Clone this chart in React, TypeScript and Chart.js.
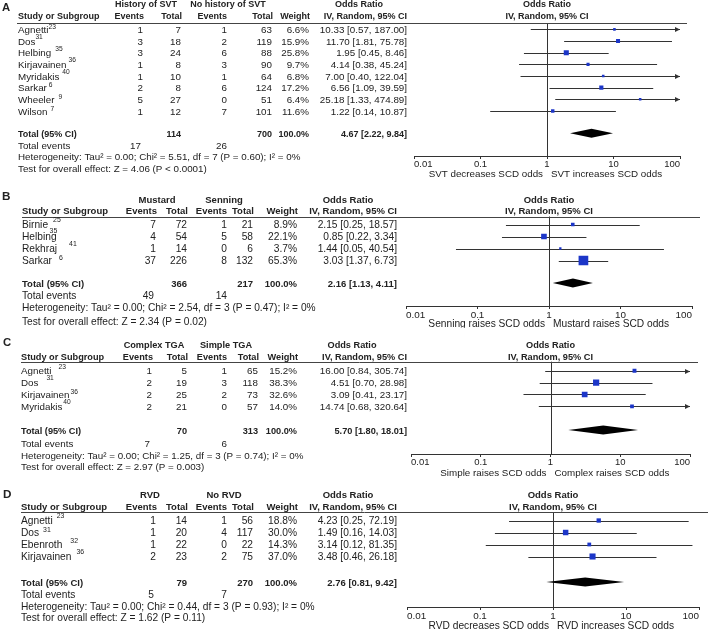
import React, { useEffect, useRef } from "react";
import { Chart, registerables } from "chart.js";

Chart.register(...registerables);

const W = 709;
const FONT = '"Liberation Sans", Arial, Helvetica, sans-serif';
const TICK_VALUES = [0.01, 0.1, 1, 10, 100];
const TICK_LABELS = ["0.01", "0.1", "1", "10", "100"];
const AXIS_H = 16;

// ---------- Panel A: history of SVT ----------
const studiesA = ["Agnetti", "Dos", "Helbing", "Kirjavainen", "Myridakis", "Sarkar", "Wheeler", "Wilson"];
const refsA = ["23", "31", "35", "36", "40", "6", "9", "7"];
const eventsA1 = [1, 3, 3, 1, 1, 2, 5, 1];
const totalA1 = [7, 18, 24, 8, 10, 8, 27, 12];
const eventsA2 = [1, 2, 6, 3, 1, 6, 0, 7];
const totalA2 = [63, 119, 88, 90, 64, 124, 51, 101];
const weightA = [6.6, 15.9, 25.8, 9.7, 6.8, 17.2, 6.4, 11.6];
const orA = [10.33, 11.7, 1.95, 4.14, 7.0, 6.56, 25.18, 1.22];
const loA = [0.57, 1.81, 0.45, 0.38, 0.4, 1.09, 1.33, 0.14];
const hiA = [187.0, 75.78, 8.46, 45.24, 122.04, 39.59, 474.89, 10.87];
const sumA = { total1: 114, total2: 700, events1: 17, events2: 26 };
const pooledA = [4.67, 2.22, 9.84];
const hetA = "Heterogeneity: Tau² = 0.00; Chi² = 5.51, df = 7 (P = 0.60); I² = 0%";
const testA = "Test for overall effect: Z = 4.06 (P < 0.0001)";
const groupsA = ["History of SVT", "No history of SVT"];
const captionA = ["SVT decreases SCD odds", "SVT increases SCD odds"];

// ---------- Panel B: Mustard vs Senning ----------
const studiesB = ["Birnie", "Helbing", "Rekhraj", "Sarkar"];
const refsB = ["25", "35", "41", "6"];
const eventsB1 = [7, 4, 1, 37];
const totalB1 = [72, 54, 14, 226];
const eventsB2 = [1, 5, 0, 8];
const totalB2 = [21, 58, 6, 132];
const weightB = [8.9, 22.1, 3.7, 65.3];
const orB = [2.15, 0.85, 1.44, 3.03];
const loB = [0.25, 0.22, 0.05, 1.37];
const hiB = [18.57, 3.34, 40.54, 6.73];
const sumB = { total1: 366, total2: 217, events1: 49, events2: 14 };
const pooledB = [2.16, 1.13, 4.11];
const hetB = "Heterogeneity: Tau² = 0.00; Chi² = 2.54, df = 3 (P = 0.47); I² = 0%";
const testB = "Test for overall effect: Z = 2.34 (P = 0.02)";
const groupsB = ["Mustard", "Senning"];
const captionB = ["Senning raises SCD odds", "Mustard raises SCD odds"];

// ---------- Panel C: complex vs simple TGA ----------
const studiesC = ["Agnetti", "Dos", "Kirjavainen", "Myridakis"];
const refsC = ["23", "31", "36", "40"];
const eventsC1 = [1, 2, 2, 2];
const totalC1 = [5, 19, 25, 21];
const eventsC2 = [1, 3, 2, 0];
const totalC2 = [65, 118, 73, 57];
const weightC = [15.2, 38.3, 32.6, 14.0];
const orC = [16.0, 4.51, 3.09, 14.74];
const loC = [0.84, 0.7, 0.41, 0.68];
const hiC = [305.74, 28.98, 23.17, 320.64];
const sumC = { total1: 70, total2: 313, events1: 7, events2: 6 };
const pooledC = [5.7, 1.8, 18.01];
const hetC = "Heterogeneity: Tau² = 0.00; Chi² = 1.25, df = 3 (P = 0.74); I² = 0%";
const testC = "Test for overall effect: Z = 2.97 (P = 0.003)";
const groupsC = ["Complex TGA", "Simple TGA"];
const captionC = ["Simple raises SCD odds", "Complex raises SCD odds"];

// ---------- Panel D: RVD vs no RVD ----------
const studiesD = ["Agnetti", "Dos", "Ebenroth", "Kirjavainen"];
const refsD = ["23", "31", "32", "36"];
const eventsD1 = [1, 1, 1, 2];
const totalD1 = [14, 20, 22, 23];
const eventsD2 = [1, 4, 0, 2];
const totalD2 = [56, 117, 22, 75];
const weightD = [18.8, 30.0, 14.3, 37.0];
const orD = [4.23, 1.49, 3.14, 3.48];
const loD = [0.25, 0.16, 0.12, 0.46];
const hiD = [72.19, 14.03, 81.35, 26.18];
const sumD = { total1: 79, total2: 270, events1: 5, events2: 7 };
const pooledD = [2.76, 0.81, 9.42];
const hetD = "Heterogeneity: Tau² = 0.00; Chi² = 0.44, df = 3 (P = 0.93); I² = 0%";
const testD = "Test for overall effect: Z = 1.62 (P = 0.11)";
const groupsD = ["RVD", "No RVD"];
const captionD = ["RVD decreases SCD odds", "RVD increases SCD odds"];

// ---------- layout (positions / sizes only) ----------
type Layout = {
  top: number; height: number; fs: number; bfs: number; letterXY: number[];
  h1: number; h2: number; lineY: number; lineX: number[];
  row0: number; pitch: number; totalY: number; eventsY: number; hetY: number; testY: number;
  axisY: number; captionY: number; plotL: number; plotR: number;
  nameX: number; cols: number[]; g1X: number; g2X: number; orHeadX: number;
  boxK: number; sup: number[][]; textDy: number;
};

const layA: Layout = {
  top: 0, height: 178, fs: 9.8, bfs: 9.0, letterXY: [2, 7.5],
  h1: 5, h2: 16.5, lineY: 23.3, lineX: [17, 687],
  row0: 29.4, pitch: 11.65, totalY: 133.3, eventsY: 146, hetY: 157.5, testY: 169.5,
  axisY: 156, captionY: 174, plotL: 414, plotR: 680,
  nameX: 18, cols: [143, 181, 227, 272, 309, 407], g1X: 146, g2X: 228, orHeadX: 359,
  boxK: 1.0, sup: [[0, -3], [0, -4.5], [4, -5], [2, -5], [3, -5], [2, -3], [4, -3], [3, -3]], textDy: 1,
};
const layB: Layout = {
  top: 178, height: 150, fs: 10.2, bfs: 9.5, letterXY: [2, 197],
  h1: 200, h2: 211.5, lineY: 216.5, lineX: [22, 700],
  row0: 224.5, pitch: 12, totalY: 283, eventsY: 296, hetY: 308, testY: 322,
  axisY: 306, captionY: 324, plotL: 406, plotR: 692,
  nameX: 22, cols: [156, 187, 227, 253, 297, 397], g1X: 157, g2X: 224, orHeadX: 348,
  boxK: 1.2, sup: [[5, -5], [-7, -6.5], [12, -5], [7, -3]], textDy: 1,
};
const layC: Layout = {
  top: 328, height: 150, fs: 9.8, bfs: 9.2, letterXY: [3, 343],
  h1: 345, h2: 357, lineY: 361.7, lineX: [21, 698],
  row0: 370.7, pitch: 11.9, totalY: 430, eventsY: 444, hetY: 456, testY: 467.5,
  axisY: 454, captionY: 473, plotL: 411, plotR: 690,
  nameX: 21, cols: [152, 187, 227, 258, 297, 407], g1X: 154, g2X: 226, orHeadX: 352,
  boxK: 1.0, sup: [[7, -5], [8, -5], [1, -3], [1, -5]], textDy: 1,
};
const layD: Layout = {
  top: 478, height: 152, fs: 10.2, bfs: 9.5, letterXY: [3, 495],
  h1: 495, h2: 507, lineY: 512, lineX: [21, 708],
  row0: 520.5, pitch: 12, totalY: 582, eventsY: 595, hetY: 607, testY: 618.5,
  axisY: 607, captionY: 626, plotL: 407, plotR: 699,
  nameX: 21, cols: [156, 187, 227, 253, 297, 397], g1X: 150, g2X: 224, orHeadX: 348,
  boxK: 1.0, sup: [[4, -5], [4, -3], [8, -4], [5, -5]], textDy: 1,
};

type Spec = {
  letter: string; groups: string[]; studies: string[]; refs: string[];
  ev1: number[]; tot1: number[]; ev2: number[]; tot2: number[];
  weight: number[]; or: number[]; lo: number[]; hi: number[];
  sum: { total1: number; total2: number; events1: number; events2: number };
  pooled: number[]; het: string; test: string; caption: string[]; lay: Layout;
};

const panels: Spec[] = [
  { letter: "A", groups: groupsA, studies: studiesA, refs: refsA, ev1: eventsA1, tot1: totalA1, ev2: eventsA2, tot2: totalA2, weight: weightA, or: orA, lo: loA, hi: hiA, sum: sumA, pooled: pooledA, het: hetA, test: testA, caption: captionA, lay: layA },
  { letter: "B", groups: groupsB, studies: studiesB, refs: refsB, ev1: eventsB1, tot1: totalB1, ev2: eventsB2, tot2: totalB2, weight: weightB, or: orB, lo: loB, hi: hiB, sum: sumB, pooled: pooledB, het: hetB, test: testB, caption: captionB, lay: layB },
  { letter: "C", groups: groupsC, studies: studiesC, refs: refsC, ev1: eventsC1, tot1: totalC1, ev2: eventsC2, tot2: totalC2, weight: weightC, or: orC, lo: loC, hi: hiC, sum: sumC, pooled: pooledC, het: hetC, test: testC, caption: captionC, lay: layC },
  { letter: "D", groups: groupsD, studies: studiesD, refs: refsD, ev1: eventsD1, tot1: totalD1, ev2: eventsD2, tot2: totalD2, weight: weightD, or: orD, lo: loD, hi: hiD, sum: sumD, pooled: pooledD, het: hetD, test: testD, caption: captionD, lay: layD },
];

const TEXT = "#222222";
const LINE = "#333333";
const BOX = "#1c36c8";

const fmtOR = (o: number, l: number, h: number) => `${o.toFixed(2)} [${l.toFixed(2)}, ${h.toFixed(2)}]`;

function txt(ctx: CanvasRenderingContext2D, s: string, x: number, y: number, align: CanvasTextAlign, bold: boolean, size: number) {
  ctx.font = `${bold ? "bold " : ""}${size}px ${FONT}`;
  ctx.textAlign = align;
  ctx.textBaseline = "middle";
  ctx.fillStyle = TEXT;
  ctx.fillText(s, x, y);
}

function makePlugin(p: Spec) {
  const L = p.lay;
  const Y = (abs: number) => abs - L.top;
  const totalRow = (L.totalY - L.row0) / L.pitch;
  return {
    id: "forest" + p.letter,
    beforeDatasetsDraw(chart: any) {
      const ctx: CanvasRenderingContext2D = chart.ctx;
      const xs = chart.scales.x;
      const ys = chart.scales.y;
      const ca = chart.chartArea;
      ctx.save();
      ctx.strokeStyle = LINE;
      ctx.fillStyle = LINE;
      ctx.lineWidth = 1;
      // line of no effect
      const x1 = Math.round(xs.getPixelForValue(1)) + 0.5;
      ctx.beginPath();
      ctx.moveTo(x1, ca.top);
      ctx.lineTo(x1, ca.bottom);
      ctx.stroke();
      // confidence intervals
      p.or.forEach((_, i) => {
        const y = Math.round(ys.getPixelForValue(i)) + 0.5;
        const a = xs.getPixelForValue(Math.max(p.lo[i], 0.01));
        const b = xs.getPixelForValue(Math.min(p.hi[i], 100));
        ctx.beginPath();
        ctx.moveTo(a, y);
        ctx.lineTo(b, y);
        ctx.stroke();
        if (p.hi[i] > 100) {
          ctx.beginPath();
          ctx.moveTo(b, y);
          ctx.lineTo(b - 5, y - 2.5);
          ctx.lineTo(b - 5, y + 2.5);
          ctx.closePath();
          ctx.fill();
        }
        if (p.lo[i] < 0.01) {
          ctx.beginPath();
          ctx.moveTo(a, y);
          ctx.lineTo(a + 5, y - 2.5);
          ctx.lineTo(a + 5, y + 2.5);
          ctx.closePath();
          ctx.fill();
        }
      });
      // pooled diamond
      const yt = ys.getPixelForValue(totalRow);
      const xo = xs.getPixelForValue(p.pooled[0]);
      const xl = xs.getPixelForValue(p.pooled[1]);
      const xh = xs.getPixelForValue(p.pooled[2]);
      ctx.fillStyle = "#000";
      ctx.beginPath();
      ctx.moveTo(xl, yt);
      ctx.lineTo(xo, yt - 4.5);
      ctx.lineTo(xh, yt);
      ctx.lineTo(xo, yt + 4.5);
      ctx.closePath();
      ctx.fill();
      ctx.restore();
    },
    afterDraw(chart: any) {
      const ctx: CanvasRenderingContext2D = chart.ctx;
      const xs = chart.scales.x;
      const ys = chart.scales.y;
      const fs = L.fs;
      const bfs = L.bfs;
      const c = L.cols;
      ctx.save();
      // panel letter
      txt(ctx, p.letter, L.letterXY[0], Y(L.letterXY[1]), "left", true, fs + 1.5);
      // headers
      const h1 = Y(L.h1);
      const h2 = Y(L.h2);
      txt(ctx, p.groups[0], L.g1X, h1, "center", true, bfs);
      txt(ctx, p.groups[1], L.g2X, h1, "center", true, bfs);
      txt(ctx, "Odds Ratio", L.orHeadX, h1, "center", true, bfs);
      const plotMid = (xs.left + xs.right) / 2;
      txt(ctx, "Odds Ratio", plotMid, h1, "center", true, bfs);
      txt(ctx, "Study or Subgroup", L.nameX, h2, "left", true, bfs);
      txt(ctx, "Events", c[0] + 1, h2, "right", true, bfs);
      txt(ctx, "Total", c[1] + 1, h2, "right", true, bfs);
      txt(ctx, "Events", c[2], h2, "right", true, bfs);
      txt(ctx, "Total", c[3] + 1, h2, "right", true, bfs);
      txt(ctx, "Weight", c[4] + 1, h2, "right", true, bfs);
      txt(ctx, "IV, Random, 95% CI", c[5], h2, "right", true, bfs);
      txt(ctx, "IV, Random, 95% CI", plotMid, h2, "center", true, bfs);
      // header rule
      const ly = Math.round(Y(L.lineY)) + 0.5;
      ctx.strokeStyle = "#444";
      ctx.lineWidth = 1;
      ctx.beginPath();
      ctx.moveTo(L.lineX[0], ly);
      ctx.lineTo(L.lineX[1], ly);
      ctx.stroke();
      // study rows
      p.studies.forEach((name, i) => {
        const y = ys.getPixelForValue(i) + L.textDy;
        txt(ctx, name, L.nameX, y, "left", false, fs);
        ctx.font = `${fs}px ${FONT}`;
        const w = ctx.measureText(name).width;
        const s = L.sup[i] || [2, -4];
        txt(ctx, p.refs[i], L.nameX + w + s[0], y + s[1], "left", false, fs * 0.68);
        txt(ctx, String(p.ev1[i]), c[0], y, "right", false, fs);
        txt(ctx, String(p.tot1[i]), c[1], y, "right", false, fs);
        txt(ctx, String(p.ev2[i]), c[2], y, "right", false, fs);
        txt(ctx, String(p.tot2[i]), c[3], y, "right", false, fs);
        txt(ctx, p.weight[i].toFixed(1) + "%", c[4], y, "right", false, fs);
        txt(ctx, fmtOR(p.or[i], p.lo[i], p.hi[i]), c[5], y, "right", false, fs);
      });
      // total row
      const ty = Y(L.totalY) + L.textDy;
      txt(ctx, "Total (95% CI)", L.nameX, ty, "left", true, bfs);
      txt(ctx, String(p.sum.total1), c[1], ty, "right", true, bfs);
      txt(ctx, String(p.sum.total2), c[3], ty, "right", true, bfs);
      txt(ctx, "100.0%", c[4], ty, "right", true, bfs);
      txt(ctx, fmtOR(p.pooled[0], p.pooled[1], p.pooled[2]), c[5], ty, "right", true, bfs);
      // footer lines
      const ey = Y(L.eventsY);
      txt(ctx, "Total events", L.nameX, ey, "left", false, fs);
      txt(ctx, String(p.sum.events1), c[0] - 2, ey, "right", false, fs);
      txt(ctx, String(p.sum.events2), c[2], ey, "right", false, fs);
      txt(ctx, p.het, L.nameX, Y(L.hetY), "left", false, fs);
      txt(ctx, p.test, L.nameX, Y(L.testY), "left", false, fs);
      // axis captions
      const x1 = xs.getPixelForValue(1);
      const cy = Y(L.captionY);
      txt(ctx, p.caption[0], x1 - 4, cy, "right", false, fs);
      txt(ctx, p.caption[1], x1 + 4, cy, "left", false, fs);
      ctx.restore();
    },
  };
}

function Panel({ spec }: { spec: Spec }) {
  const ref = useRef<HTMLCanvasElement>(null);
  useEffect(() => {
    const L = spec.lay;
    const canvas = ref.current;
    if (!canvas) return;
    const chart = new Chart(canvas, {
      type: "scatter",
      data: {
        datasets: [
          {
            data: spec.or.map((v, i) => ({ x: v, y: i })),
            pointStyle: "rect",
            pointRadius: spec.weight.map((w) => (L.boxK * Math.sqrt(w)) / Math.SQRT2),
            backgroundColor: BOX,
            borderColor: BOX,
            borderWidth: 0,
            pointBorderWidth: 0,
          } as any,
        ],
      },
      options: {
        responsive: false,
        animation: false,
        events: [],
        layout: {
          padding: {
            left: L.plotL,
            right: W - L.plotR,
            top: L.lineY - L.top,
            bottom: L.height - (L.axisY - L.top) - AXIS_H,
          },
        },
        scales: {
          x: {
            type: "logarithmic",
            min: 0.01,
            max: 100,
            position: "bottom",
            afterBuildTicks: (s: any) => {
              s.ticks = TICK_VALUES.map((v) => ({ value: v }));
            },
            afterFit: (s: any) => {
              s.height = AXIS_H;
            },
            ticks: {
              autoSkip: false,
              maxRotation: 0,
              minRotation: 0,
              padding: 0,
              align: "inner",
              color: TEXT,
              font: { family: FONT, size: L.fs - 0.3 },
              callback: (v: any) => {
                const k = TICK_VALUES.findIndex((t) => Math.abs(Math.log10(t) - Math.log10(Number(v))) < 1e-6);
                return k >= 0 ? TICK_LABELS[k] : "";
              },
            },
            grid: { drawOnChartArea: false, drawTicks: true, tickLength: 3, color: LINE, lineWidth: 1 },
            border: { display: true, color: LINE, width: 1 },
          },
          y: {
            type: "linear",
            display: false,
            reverse: true,
            min: (L.lineY - L.row0) / L.pitch,
            max: (L.axisY - L.row0) / L.pitch,
          },
        },
        plugins: {
          legend: { display: false },
          tooltip: { enabled: false },
          title: { display: false },
        },
      } as any,
      plugins: [makePlugin(spec) as any],
    });
    return () => chart.destroy();
  }, [spec]);
  const L = spec.lay;
  return (
    <canvas
      ref={ref}
      width={W}
      height={L.height}
      style={{ position: "absolute", left: 0, top: L.top, width: W, height: L.height, display: "block" }}
    />
  );
}

export default function App() {
  return (
    <div style={{ position: "absolute", left: 0, top: 0, width: W, height: 630, background: "#ffffff", overflow: "hidden" }}>
      {panels.map((p) => (
        <Panel key={p.letter} spec={p} />
      ))}
    </div>
  );
}
